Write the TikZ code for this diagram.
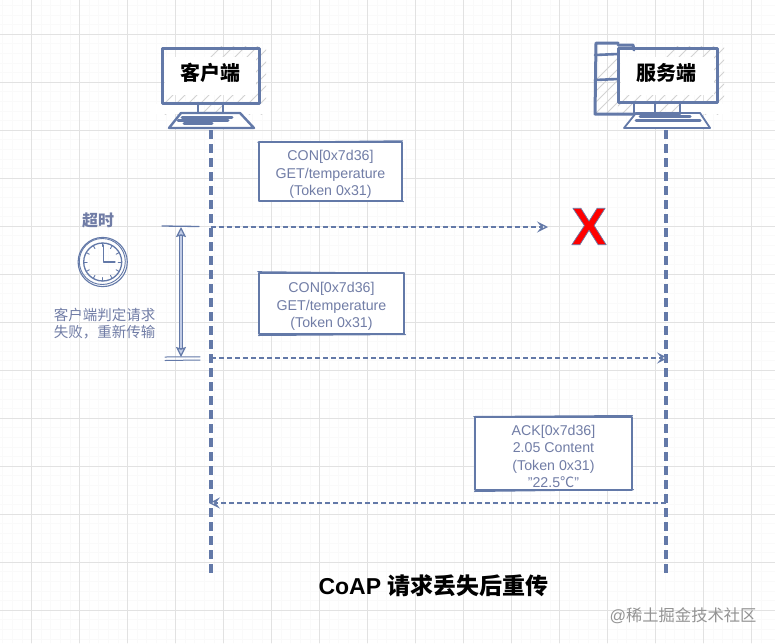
\documentclass[tikz,border=0pt]{standalone}
\usepackage{fontspec}
\setmainfont{Liberation Sans}
\newfontfamily\cjk{Noto Sans CJK SC}
\usetikzlibrary{arrows.meta}
\definecolor{ardesia}{HTML}{6379A8}
\definecolor{testo}{HTML}{717DA6}
\definecolor{tenue}{HTML}{C3CDE6}
\definecolor{griglia}{HTML}{E2E2E2}
\definecolor{grigliina}{HTML}{FAFAFA}
\newcommand{\giu}{\rule{0pt}{16.5pt}}
\begin{document}
\begin{tikzpicture}[x=1pt, y=-1pt, line join=round, line cap=round,
	vita/.style  = {ardesia, line width=3.5pt, line cap=butt, dash pattern=on 9pt off 5pt},
	msg/.style   = {ardesia, line width=1.5pt, line cap=butt, dash pattern=on 5pt off 3pt,
		-{Stealth[open, length=11pt, width=11pt, inset=4.5pt, line width=1.3pt, fill=white]}},
	box/.style   = {draw=ardesia, line width=1.2pt, fill=white, text=testo, align=center,
		inner sep=0pt, font=\fontsize{14.2}{17.4}\selectfont},
	schizzo/.style = {ardesia, line width=0.8pt},
	bordo/.style = {draw=ardesia, line width=3pt},
	tratteggio/.style = {gray!35, line width=0.9pt},
	tasti/.style = {ardesia, line width=3pt},
	nome/.style  = {font=\fontsize{20}{22}\selectfont\cjk\bfseries, text=black},
	]
	\useasboundingbox (0,0) rectangle (775,643);
	\fill[white] (0,0) rectangle (775,643);

	%% -- Griglia --------------------------------------------------------------
	\foreach \k in {0,...,80}
	\draw[grigliina, line width=0.6pt] ({-6.9+9.6*\k},0)--({-6.9+9.6*\k},643);
	\foreach \k in {0,...,67}
	\draw[grigliina, line width=0.6pt] (0,{-4.4+9.6*\k})--(775,{-4.4+9.6*\k});
	\foreach \k in {0,...,15}
	\draw[griglia, line width=0.8pt] ({31.5+48*\k},0)--({31.5+48*\k},643);
	\foreach \k in {0,...,13}
	\draw[griglia, line width=0.8pt] (0,{34+48*\k})--(775,{34+48*\k});

	%% -- Parametri ------------------------------------------------------------
	\def\xCli{211}   % colonna client
	\def\xSrv{666}   % colonna server
	\def\yTop{130}   \def\yEnd{575}

	%% -- Computer client ------------------------------------------------------
	\begin{scope}
		\clip (160,46) rectangle (266,114);
		\foreach \k in {0,...,15}
		\draw[tratteggio] ({150+12*\k},118)--++(78,-78);
	\end{scope}
	\fill[white] (150,104) rectangle (198,114) (223,104) rectangle (270,114);
	\draw[bordo] (162,48) rectangle (259,103);
	\fill[white] (165,57) rectangle (256,95);
	\draw[ardesia, line width=2.6pt] (198,103)--(198,114) (223,103)--(223,114);
	\draw[ardesia, line width=2.4pt, fill=white] (169,128)--(181,113)--(240,113)--(254,128)--cycle;
	\foreach \y/\a/\b in {117/182/232,120/178/228,123/184/212}
	\draw[tasti] (\a,\y)--(\b,\y);
	\node[nome] (client) at (210.5,73) {客户端};

	%% -- Computer server ------------------------------------------------------
	\begin{scope}
		\clip (596,44) rectangle (618,114);
		\foreach \k in {0,...,9}
		\draw[tratteggio] ({560+11*\k},116)--++(75,-75);
	\end{scope}
	\begin{scope}
		\clip (618,46) rectangle (724,114);
		\foreach \k in {0,...,15}
		\draw[tratteggio] ({606+12*\k},118)--++(78,-78);
	\end{scope}
	\fill[white] (635,104) rectangle (655,114) (680,104) rectangle (730,114);
	\draw[bordo] (618,45)--(633,45)--(634,50);
	\draw[bordo] (618,43)--(596,43)--(595,114)--(634,114);
	\draw[bordo, line width=2.6pt] (595,55)--(618,54) (595,80)--(618,79);
	\draw[bordo] (618,48)--(717,48)--(717,102)--(618,102)--cycle;
	\fill[white] (621,57) rectangle (714,95);
	\draw[ardesia, line width=2.6pt] (634,102)--(634,114) (655,102)--(655,113) (680,102)--(680,113);
	\draw[ardesia, line width=1.8pt, fill=white] (624,128)--(636,113)--(700,113)--(710,128)--cycle;
	\foreach \y/\a/\b in {113/636/680,116/640/690,120/636/700}
	\draw[tasti] (\a,\y)--(\b,\y);
	\node[nome] (server) at (666,73) {服务端};

	%% -- Linee di vita --------------------------------------------------------
	\coordinate (cliTop) at (\xCli,\yTop);
	\coordinate (cliEnd) at (\xCli,\yEnd);
	\coordinate (srvTop) at (\xSrv,\yTop);
	\coordinate (srvEnd) at (\xSrv,\yEnd);
	\draw[vita] (cliTop)--(cliEnd);
	\draw[vita] (srvTop)--(srvEnd);

	%% -- Messaggi -------------------------------------------------------------
	\coordinate (m1a) at (\xCli,227);    \coordinate (m1b) at (548,227);
	\coordinate (m2a) at (\xCli,358);    \coordinate (m2b) at (668,358);
	\coordinate (m3a) at (\xSrv,503);    \coordinate (m3b) at (209,503);
	\draw[msg] (m1a)--(m1b);
	\draw[msg] (m2a)--(m2b);
	\draw[msg] (m3a)--(m3b);

	%% -- Riquadri -------------------------------------------------------------
	\node[box, minimum width=143pt, minimum height=59pt] (req1) at (330.5,171.5)
		{\giu CON[0x7d36]\\GET/temperature\\(Token 0x31)};
	\draw[schizzo] ([xshift=-0.8pt,yshift=-0.8pt]req1.north west)--([yshift=0.7pt]req1.north east);
	\draw[schizzo] ([yshift=1pt]req1.south west)--([xshift=1pt]req1.south east);

	\node[box, minimum width=145pt, minimum height=61pt] (req2) at (331.5,303.5)
		{\giu CON[0x7d36]\\GET/temperature\\(Token 0x31)};
	\draw[schizzo] ([xshift=-0.8pt,yshift=0.8pt]req2.north west)--([yshift=-0.7pt]req2.north east);
	\draw[schizzo] ([yshift=-1pt]req2.south west)--([xshift=1pt]req2.south east);

	\node[box, minimum width=157pt, minimum height=73pt] (ack) at (553.5,453.5)
		{\giu ACK[0x7d36]\\2.05 Content\\(Token 0x31)\\"22.5{\cjk ℃}"};
	\draw[schizzo] ([xshift=-0.8pt]ack.north west)--([yshift=1pt]ack.north east);
	\draw[schizzo] ([yshift=-1pt]ack.south west)--([xshift=1pt,yshift=1pt]ack.south east);

	%% -- Croce rossa ----------------------------------------------------------
	\node[text=red, inner sep=0pt, font=\fontsize{53}{53}\selectfont\bfseries] (perso) at (589,226.5)
		{\special{pdf:literal 0.42 0.48 0.65 RG 2 Tr 0.7 w}X\special{pdf:literal 0 Tr}};

	%% -- Timeout --------------------------------------------------------------
	\coordinate (tmTop) at (181,227);
	\coordinate (tmEnd) at (181,357);
	\coordinate (tmA) at (181,236);
	\coordinate (tmB) at (181,348);
	\draw[ardesia, line width=1.3pt] (162,226)--(199,226.5);
	\draw[ardesia, line width=1pt] (165,357)--(200,356.8) (165,360.5)--(200,360);
	\draw[ardesia, line width=1.1pt,
		{Stealth[open, length=10pt, width=10pt, inset=1.5pt, fill=tenue, line width=1.2pt]}-{Stealth[open, length=10pt, width=10pt, inset=1.5pt, fill=tenue, line width=1.2pt]}]
		(tmTop)--(tmEnd);
	\draw[ardesia, line width=4.6pt, line cap=butt] (tmA)--(tmB);
	\draw[tenue, line width=2.6pt, line cap=butt] (tmA)--(tmB);
	\node[font=\fontsize{16}{18}\selectfont\cjk\bfseries, text=testo] (scad) at (98,220) {超时};

	%% orologio
	\coordinate (clk) at (102.7,262);
	\draw[ardesia, line width=1.1pt] (clk) circle[radius=24.6];
	\draw[ardesia, line width=0.9pt] (102.3,261.5) circle[radius=23];
	\draw[ardesia, line width=1.3pt] (clk) circle[radius=19];
	\foreach \a in {0,30,...,330}
	\draw[ardesia, line width=0.9pt] ([shift={(\a:15.5)}]clk)--([shift={(\a:19)}]clk);
	\draw[ardesia, line width=1.3pt] (103.3,245)--(103.3,262)--(115,262);

	\node[font=\fontsize{14.5}{17}\selectfont\cjk, text=testo, align=center, inner sep=0pt] (nota) at (104.5,323.5)
		{客户端判定请求\\失败，重新传输};

	%% -- Titolo ---------------------------------------------------------------
	\node[font=\fontsize{23}{25}\selectfont\bfseries, text=black, inner sep=0pt] (titolo) at (433.5,586)
		{CoAP {\cjk\bfseries 请求丢失后重传}};
	\node[font=\fontsize{16.3}{18}\selectfont, text=gray!85, inner sep=0pt] (marchio) at (683,616)
		{@{\cjk 稀土掘金技术社区}};
\end{tikzpicture}
\end{document}
